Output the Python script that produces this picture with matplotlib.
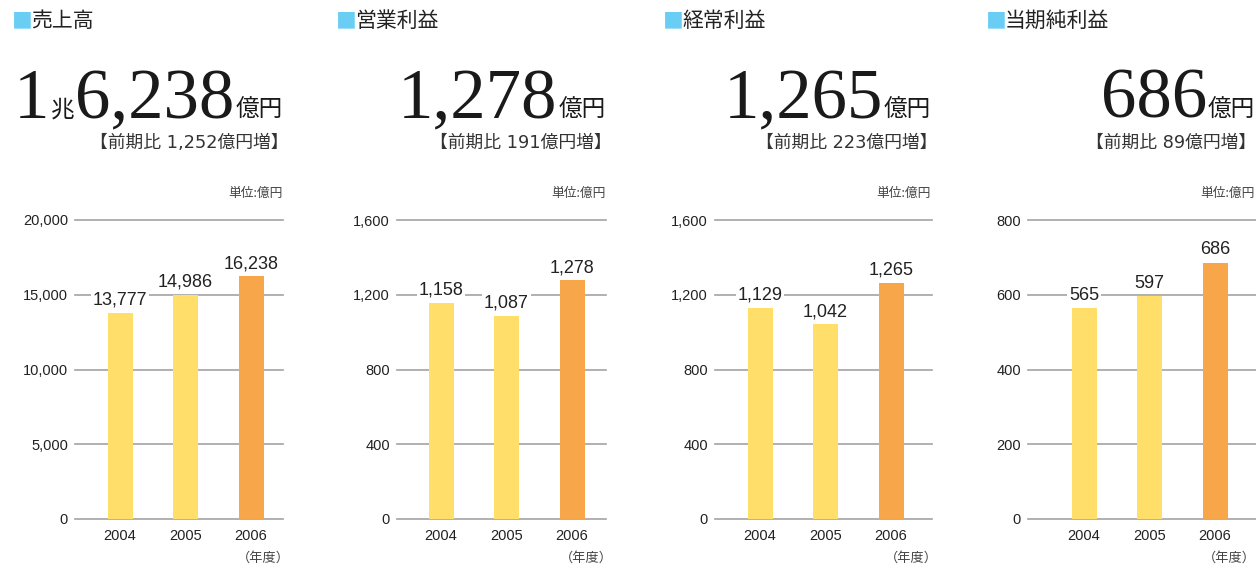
import matplotlib
matplotlib.use("Agg")
import matplotlib.pyplot as plt

# data
titles = ['売上高', '営業利益', '経常利益', '当期純利益']
years = ['2004', '2005', '2006']
sales = [13777, 14986, 16238]
op_income = [1158, 1087, 1278]
ord_income = [1129, 1042, 1265]
net_income = [565, 597, 686]
series = [sales, op_income, ord_income, net_income]
yticks = [[0, 5000, 10000, 15000, 20000],
          [0, 400, 800, 1200, 1600],
          [0, 400, 800, 1200, 1600],
          [0, 200, 400, 600, 800]]
headline = [[('1', 'num'), ('兆', 'jp'), ('6,238', 'num'), ('億円', 'jp')],
            [('1,278', 'num'), ('億円', 'jp')],
            [('1,265', 'num'), ('億円', 'jp')],
            [('686', 'num'), ('億円', 'jp')]]
increase = ['1,252', '191', '223', '89']

# layout (pixels)
W, H = 1256, 571
offs = [0, 321, 640, 964]
grid_x0 = [75, 397, 715, 1028]
grid_x1 = [283, 606, 932, 1256]
text_r = [283, 606, 931, 1255]
square_x = [14, 338, 665, 988]
y_top, y_bot = 220, 519
bar_c0, bar_step, bar_w = 120, 65.5, 25

yellow = '#FFDE6A'
orange = '#F8A64A'
blue = '#6ACEF4'
grid_col = '#A3A3A3'
txt = '#222222'
JP = ['Noto Sans CJK JP', 'DejaVu Sans']
SUB = ['DejaVu Sans', 'Noto Sans CJK JP']
SANS = ['Liberation Sans', 'Noto Sans CJK JP']
SERIF = ['Liberation Serif']

fig = plt.figure(figsize=(W / 100, H / 100), dpi=100)
renderer = fig.canvas.get_renderer()


def ftext(x, y, s, **kw):
    return fig.text(x / W, 1 - y / H, s, **kw)


for i in range(4):
    vals = series[i]
    c0 = offs[i] + bar_c0
    ax = fig.add_axes([grid_x0[i] / W, 1 - y_bot / H,
                       (grid_x1[i] - grid_x0[i]) / W, (y_bot - y_top) / H])
    ax.set_xlim((grid_x0[i] - c0) / bar_step, (grid_x1[i] - c0) / bar_step)
    ax.set_ylim(0, yticks[i][-1])
    for t in yticks[i]:
        ax.axhline(t, color=grid_col, lw=1.2, zorder=0, clip_on=False)
    cols = [yellow, yellow, orange]
    ax.bar(range(3), vals, width=bar_w / bar_step, color=cols, zorder=2)
    for k, v in enumerate(vals):
        ax.annotate(f'{v:,}', (k, v), xytext=(0, 3), textcoords='offset points',
                    ha='center', va='bottom', fontsize=13, color=txt,
                    family=SANS, zorder=3,
                    bbox=dict(boxstyle='square,pad=0.1', fc='white', ec='none'))
    ax.set_yticks(yticks[i])
    ax.set_yticklabels([f'{t:,}' for t in yticks[i]], family=SANS,
                       fontsize=10.5, color=txt)
    ax.set_xticks(range(3))
    ax.set_xticklabels(years, family=SANS, fontsize=10.5, color=txt)
    ax.tick_params(length=0)
    ax.tick_params(axis='y', pad=5)
    ax.tick_params(axis='x', pad=7)
    for sp in ax.spines.values():
        sp.set_visible(False)
    ax.patch.set_visible(False)

    # title
    ftext(square_x[i] - 2, 27, '■', family=JP, fontsize=15, color=blue,
          va='baseline')
    ftext(square_x[i] + 17, 27, titles[i], family=JP, fontsize=15,
          color=txt, va='baseline')

    # headline number, placed right to left
    xr = text_r[i]
    for s, kind in reversed(headline[i]):
        if kind == 'num':
            t = ftext(xr, 118, s, family=SERIF, fontsize=51, color='#1a1a1a',
                      ha='right', va='baseline')
        else:
            t = ftext(xr, 117, s, family=JP, fontsize=17, color='#1a1a1a',
                      ha='right', va='baseline')
        xr -= t.get_window_extent(renderer).width + 1

    ftext(min(text_r[i] + 6, W), 143, f'【前期比 {increase[i]}億円増】',
          family=SUB, fontsize=12.8, color='#333333', ha='right', va='center')
    ftext(text_r[i], 193, '単位:億円', family=JP, fontsize=9.2, color='#444444',
          ha='right', va='center')
    ftext(min(text_r[i] + 7, W), 558, '（年度）', family=JP, fontsize=9.5,
          color='#444444', ha='right', va='center')

fig.savefig('out.png', dpi=100)
